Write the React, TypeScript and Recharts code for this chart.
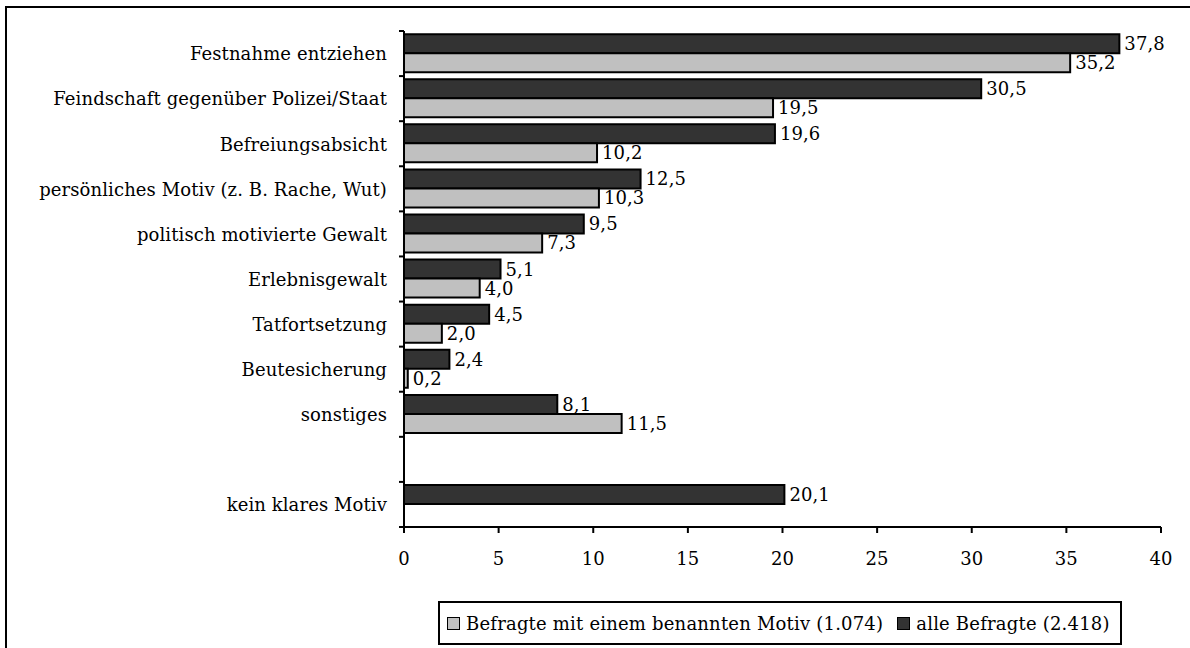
import { Bar, BarChart, LabelList, XAxis, YAxis } from 'recharts';

const FONT = '"DejaVu Serif", serif';

export const categories = [
  'Festnahme entziehen',
  'Feindschaft gegenüber Polizei/Staat',
  'Befreiungsabsicht',
  'persönliches Motiv (z. B. Rache, Wut)',
  'politisch motivierte Gewalt',
  'Erlebnisgewalt',
  'Tatfortsetzung',
  'Beutesicherung',
  'sonstiges',
  '',
  'kein klares Motiv',
];

// alle Befragte (2.418)
export const alleBefragte = [37.8, 30.5, 19.6, 12.5, 9.5, 5.1, 4.5, 2.4, 8.1, null, 20.1];
// Befragte mit einem benannten Motiv (1.074)
export const mitMotiv = [35.2, 19.5, 10.2, 10.3, 7.3, 4.0, 2.0, 0.2, 11.5, null, null];

export const xTicks = [0, 5, 10, 15, 20, 25, 30, 35, 40];

const SERIES = [
  { key: 'mit', name: 'Befragte mit einem benannten Motiv (1.074)', color: '#c0c0c0' },
  { key: 'alle', name: 'alle Befragte (2.418)', color: '#333333' },
];

const data = categories.map((name, i) => ({ name, alle: alleBefragte[i], mit: mitMotiv[i] }));

const fmt = (v: unknown) => (v == null || v === '' ? '' : Number(v).toFixed(1).replace('.', ','));

const textStyle = { fontFamily: FONT, fontSize: 18, letterSpacing: 0.1, fill: '#000' };

const W = 1190, H = 648;
const MARGIN = { top: 31, right: 29, bottom: 91, left: 0 };
const X_H = 30;
const STEP = (H - MARGIN.top - MARGIN.bottom - X_H) / categories.length;

// category label plus tick marks between the categories (Excel style)
function CategoryTick(props: any) {
  const { x, y, payload, index } = props;
  const axisX = x + 17;
  return (
    <g>
      <line x1={axisX - 5} x2={axisX} y1={y - STEP / 2} y2={y - STEP / 2} stroke="#000" strokeWidth={2} />
      {index === categories.length - 1 && (
        <line x1={axisX - 5} x2={axisX} y1={y + STEP / 2} y2={y + STEP / 2} stroke="#000" strokeWidth={2} />
      )}
      <text x={x} y={y} dy="0.38em" textAnchor="end" style={textStyle}>{payload.value}</text>
    </g>
  );
}

function LegendBox() {
  return (
    <div style={{
      position: 'absolute', left: 438, top: 601, width: 680, height: 40,
      border: '2px solid #000', background: '#fff', display: 'flex', alignItems: 'center',
      fontFamily: FONT, fontSize: 18, letterSpacing: 0.2, color: '#000', whiteSpace: 'nowrap',
    }}>
      {SERIES.map((s, i) => (
        <div key={s.key} style={{ display: 'flex', alignItems: 'center', marginLeft: i === 0 ? 7 : 14 }}>
          <div style={{ width: 11, height: 11, border: '1.5px solid #000', backgroundColor: s.color, marginRight: 6 }} />
          <span>{s.name}</span>
        </div>
      ))}
    </div>
  );
}

export default function App() {
  return (
    <div style={{ position: 'absolute', left: 0, top: 0, width: W, height: H, overflow: 'hidden', background: '#fff' }}>
      <div style={{ position: 'absolute', left: 5, top: 6, width: 1300, height: 800, border: '2px solid #000' }} />
      <BarChart
        width={W}
        height={H}
        data={data}
        layout="vertical"
        margin={MARGIN}
        barCategoryGap="7%"
        barGap={0}
        style={{ position: 'absolute', left: 0, top: 0 }}
      >
        <XAxis
          type="number"
          domain={[0, 40]}
          ticks={xTicks}
          height={X_H}
          tickSize={6}
          tickMargin={19}
          axisLine={{ stroke: '#000', strokeWidth: 2 }}
          tickLine={{ stroke: '#000', strokeWidth: 2 }}
          tick={textStyle}
        />
        <YAxis
          type="category"
          dataKey="name"
          width={404}
          tickLine={false}
          tickSize={0}
          tickMargin={17}
          interval={0}
          axisLine={{ stroke: '#000', strokeWidth: 2 }}
          tick={<CategoryTick />}
        />
        <Bar dataKey="alle" name={SERIES[1].name} fill={SERIES[1].color} stroke="#000" strokeWidth={2} isAnimationActive={false}>
          <LabelList dataKey="alle" position="right" offset={5} formatter={fmt} style={textStyle} />
        </Bar>
        <Bar dataKey="mit" name={SERIES[0].name} fill={SERIES[0].color} stroke="#000" strokeWidth={2} isAnimationActive={false}>
          <LabelList dataKey="mit" position="right" offset={5} formatter={fmt} style={textStyle} />
        </Bar>
      </BarChart>
      <LegendBox />
    </div>
  );
}
